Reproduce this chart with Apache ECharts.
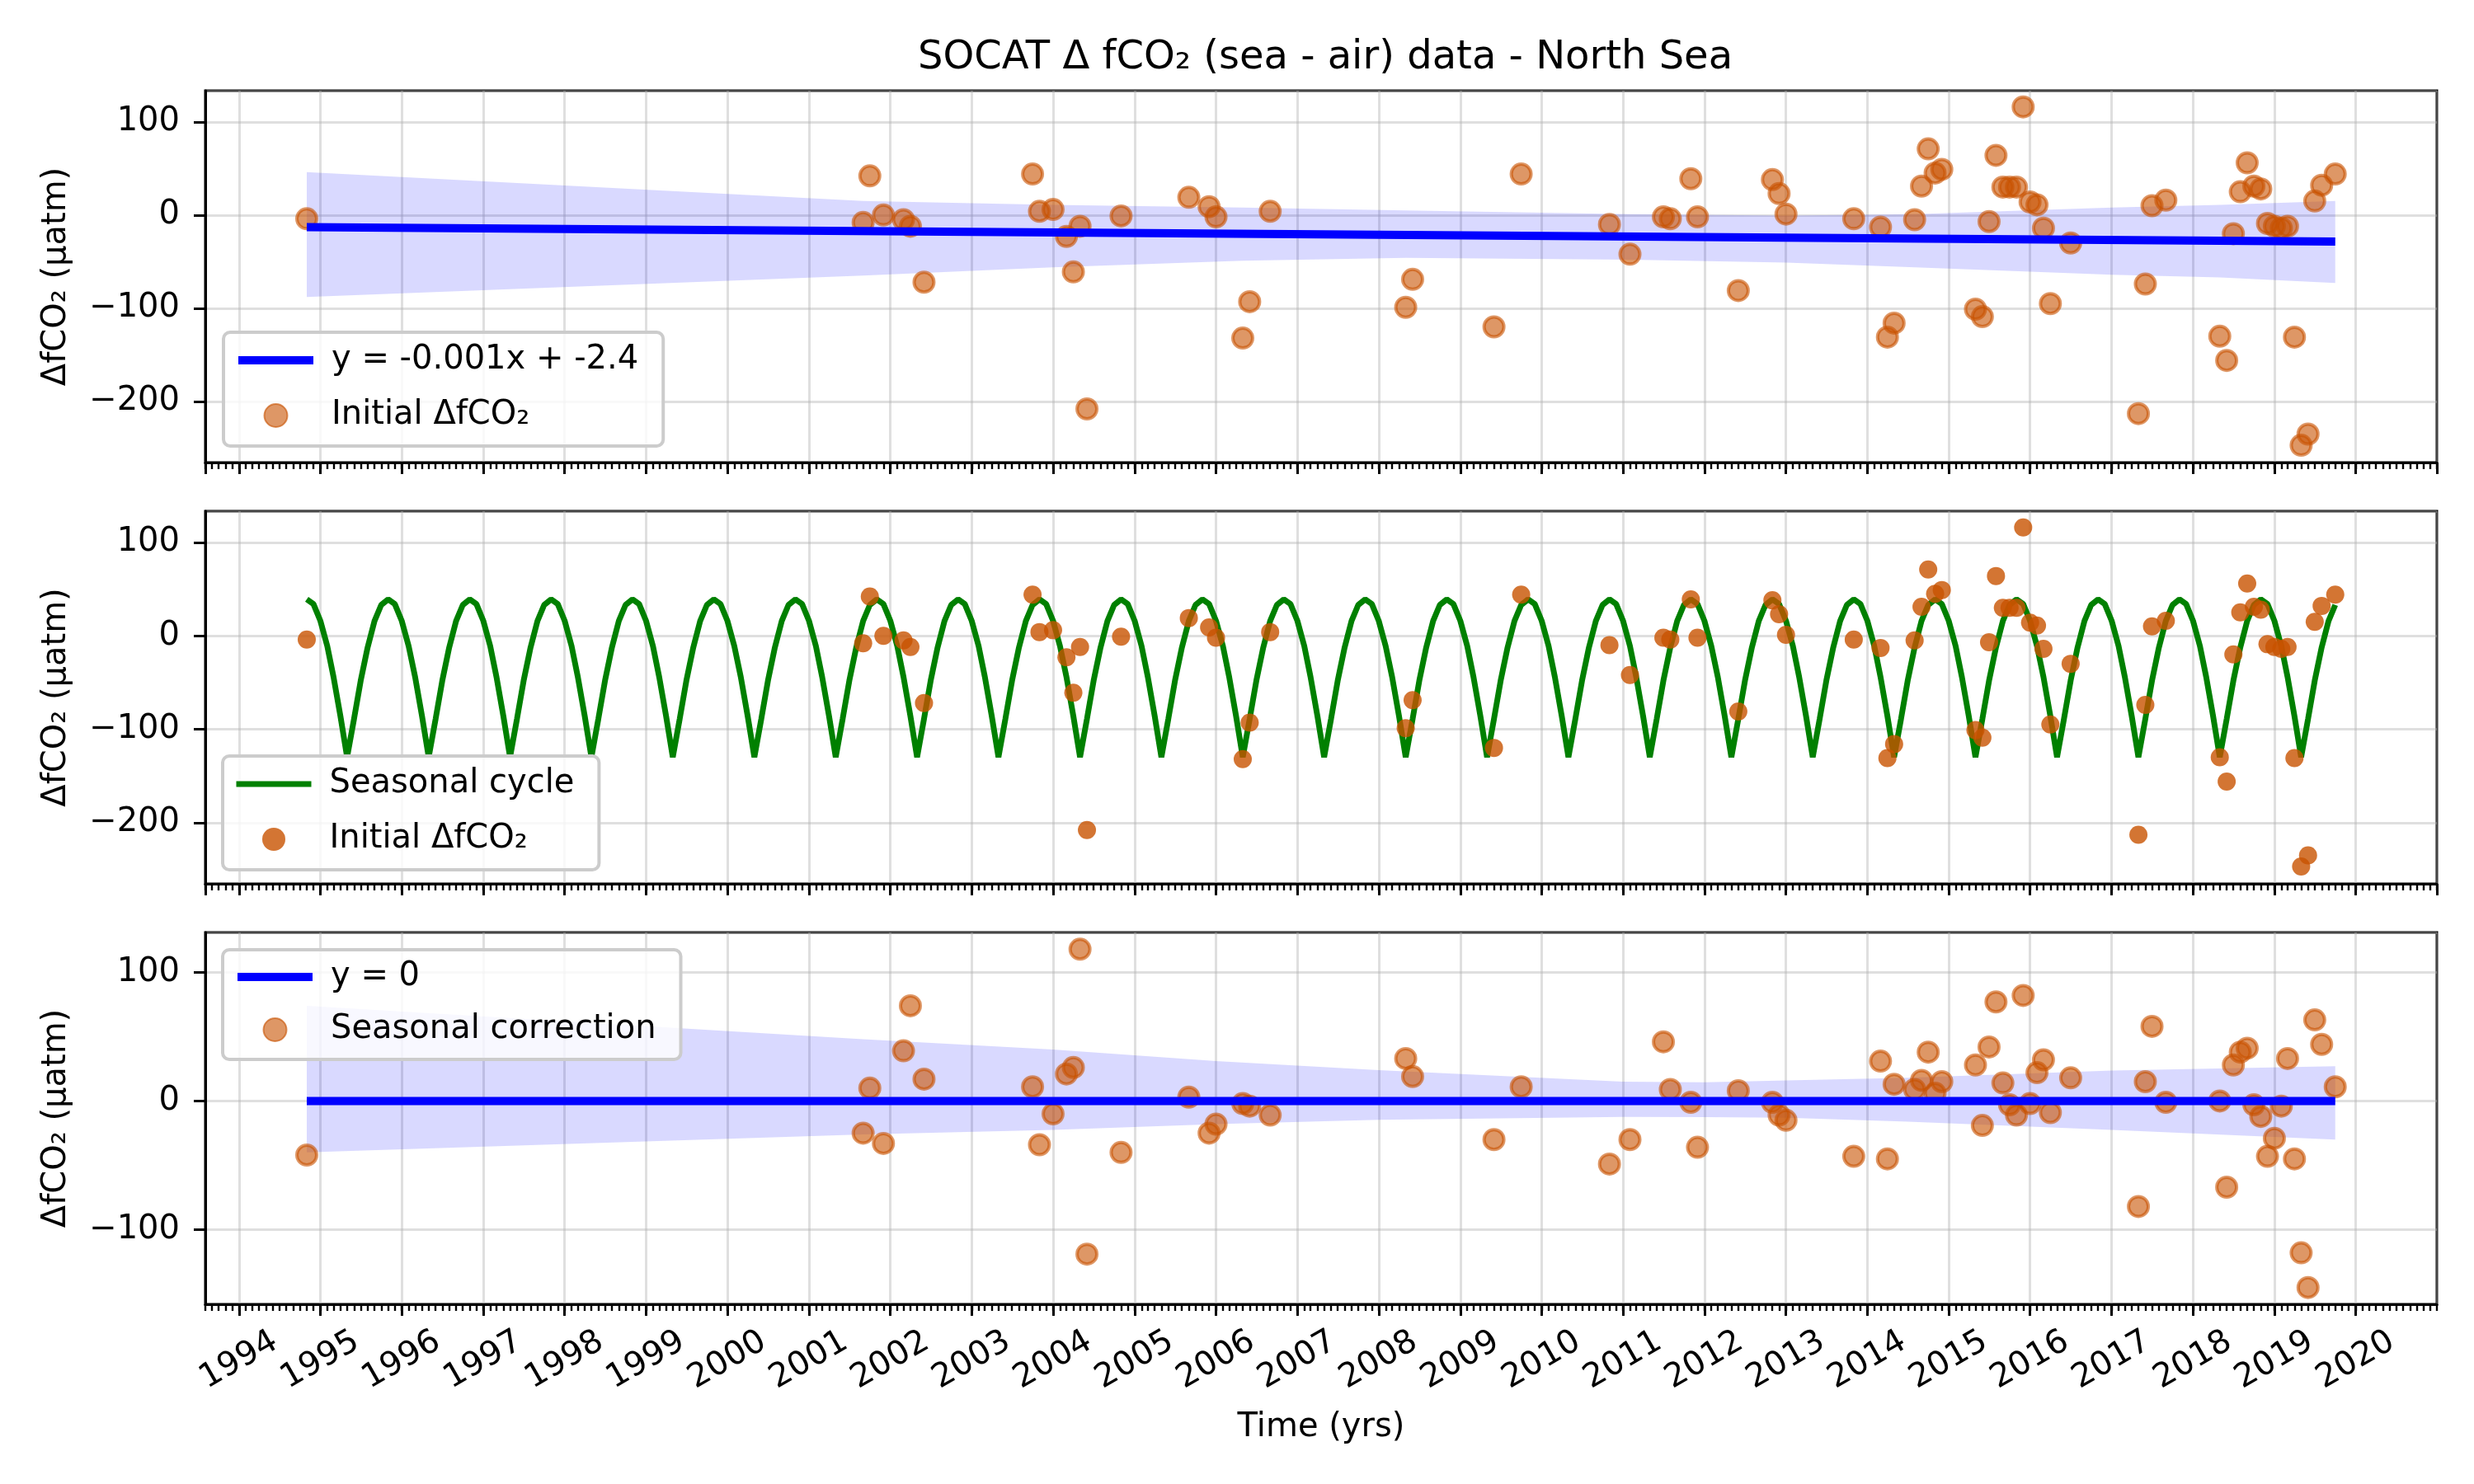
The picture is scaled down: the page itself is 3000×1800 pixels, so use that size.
<!DOCTYPE html>
<html>
<head>
<meta charset="utf-8">
<script src="https://cdn.jsdelivr.net/npm/echarts@6/dist/echarts.min.js"></script>
<style>
  html, body { margin: 0; padding: 0; background: #fff; }
  #chart { width: 3000px; height: 1800px; }
</style>
</head>
<body>
<div id="chart"></div>
<script>
const obsMonths = [
  '1994-11',
  '2001-09','2001-10','2001-12',
  '2002-03','2002-04','2002-06',
  '2003-10','2003-11',
  '2004-01','2004-03','2004-04','2004-05','2004-06','2004-11',
  '2005-09','2005-12',
  '2006-01','2006-05','2006-06','2006-09',
  '2008-05','2008-06',
  '2009-06','2009-10',
  '2010-11',
  '2011-02','2011-07','2011-08','2011-11','2011-12',
  '2012-06','2012-11','2012-12',
  '2013-01','2013-11',
  '2014-03','2014-04','2014-05','2014-08','2014-09','2014-10','2014-11','2014-12',
  '2015-05','2015-06','2015-07','2015-08','2015-09','2015-10','2015-11','2015-12',
  '2016-01','2016-02','2016-03','2016-04','2016-07',
  '2017-05','2017-06','2017-07','2017-09',
  '2018-05','2018-06','2018-07','2018-08','2018-09','2018-10','2018-11','2018-12',
  '2019-01','2019-02','2019-03','2019-04','2019-05','2019-06','2019-07','2019-08','2019-10'
];
// initial dfCO2 (top + middle panels)
const initialValues = [
  -4,
  -8, 42, 0,
  -5, -12, -72,
  44, 4,
  6, -23, -61, -12, -208, -1,
  19, 9,
  -2, -132, -93, 4,
  -99, -69,
  -120, 44,
  -10,
  -42, -2, -4, 39, -2,
  -81, 38, 23,
  1, -4,
  -13, -131, -116, -5, 31, 71, 45, 49,
  -101, -109, -7, 64, 30, 30, 30, 116,
  14, 11, -14, -95, -30,
  -213, -74, 10, 16,
  -130, -156, -20, 25, 56, 31, 28, -9,
  -12, -14, -12, -131, -247, -235, 15, 32, 44
];
// seasonally corrected dfCO2 (bottom panel)
const correctedValues = [
  -42,
  -25, 10, -33,
  39, 74, 17,
  11, -34,
  -10, 21, 26, 118, -119, -40,
  3, -25,
  -18, -2, -4, -11,
  33, 19,
  -30, 11,
  -49,
  -30, 46, 9, -1, -36,
  8, -1, -11,
  -15, -43,
  31, -45, 13, 9, 16, 38, 6, 15,
  28, -19, 42, 77, 14, -3, -11, 82,
  -2, 22, 32, -9, 18,
  -82, 15, 58, -1,
  0, -67, 28, 38, 41, -3, -12, -43,
  -29, -4, 33, -45, -118, -145, 63, 44, 11
];

// seasonal cycle value for each calendar month Jan..Dec
const seasonalByMonth = [16, -11, -44, -86, -130, -89, -48, -12.5, 16, 33, 39, 34];
const seasonalFirst = [1994, 11];
const seasonalLast = [2019, 10];

// regression lines
const trendMonths = ['1994-11', '2019-10'];
const trendValues = [-13, -28.5];
const zeroValues = [0, 0];

// confidence bands
const band1Months = ['1994-11','2001-09','2004-01','2006-05','2008-05','2011-02','2013-01','2014-08','2017-01','2018-05','2019-10'];
const band1Low  = [-88, -65, -56, -49, -46, -48, -51, -56, -64, -67, -73];
const band1High = [46, 15, 11, 8, 5, 1, -0.5, 1, 8, 11, 15];
const band3Months = ['1994-11','2001-09','2004-01','2006-01','2008-01','2011-01','2012-01','2013-01','2014-07','2017-01','2019-10'];
const band3Low  = [-40, -26, -22.5, -18, -14.6, -12.4, -12.5, -13, -16, -22.5, -30];
const band3High = [74, 48, 40, 31, 24, 15, 14.6, 16, 18, 23.6, 27];

const legendText = {
  trend1: 'y = -0.001x + -2.4',
  init1: 'Initial ΔfCO₂',
  seasonal: 'Seasonal cycle',
  init2: 'Initial ΔfCO₂',
  zero: 'y = 0',
  corr: 'Seasonal correction'
};

const FONT = 'DejaVu Sans';
const ORANGE = '#c85200';
const ORANGE_A = 'rgba(200,82,0,0.75)';
const BAND = 'rgba(0,0,255,0.15)';
const GRIDLINE = 'rgba(176,176,176,0.4)';
const DAY = 86400000;

const seasonalData = [];
for (let y = seasonalFirst[0], m = seasonalFirst[1];
     y < seasonalLast[0] || (y === seasonalLast[0] && m <= seasonalLast[1]); ) {
  seasonalData.push([y + '-' + String(m).padStart(2, '0'), seasonalByMonth[m - 1]]);
  m++;
  if (m > 12) { m = 1; y++; }
}

const pairs = (xs, ys) => xs.map((x, i) => [x, ys[i]]);

const panels = [
  { top: 110, height: 451, min: -265.5, max: 133.4, split: 4 },
  { top: 620, height: 452, min: -265.5, max: 133.4, split: 4 },
  { top: 1131, height: 451, min: -158, max: 131, split: 3 }
];

const grid = panels.map(p => ({
  left: 249, right: 45, top: p.top, height: p.height,
  show: true, borderColor: '#000', borderWidth: 3, backgroundColor: 'transparent'
}));

const xMain = panels.map((p, i) => ({
  type: 'time', gridIndex: i,
  min: '1993-08-03', max: '2020-12-30',
  minInterval: 365 * DAY, maxInterval: 366 * DAY,
  axisLine: { show: true, onZero: false, lineStyle: { color: '#000', width: 3 } },
  axisTick: { show: true, length: 14, lineStyle: { color: '#000', width: 3 } },
  axisLabel: {
    show: i === 2, rotate: 30, align: 'center', verticalAlign: 'middle', margin: 68,
    fontFamily: FONT, fontSize: 40, color: '#000',
    showMinLabel: false, showMaxLabel: false,
    formatter: v => String(new Date(v).getFullYear())
  },
  splitLine: { show: true, lineStyle: { color: GRIDLINE, width: 3 } },
  name: i === 2 ? 'Time (yrs)' : '',
  nameLocation: 'middle', nameGap: 130,
  nameTextStyle: { fontFamily: FONT, fontSize: 40, color: '#000' }
}));
// monthly minor ticks
const xMinor = panels.map((p, i) => ({
  type: 'time', gridIndex: i, position: 'bottom',
  min: '1993-08-03', max: '2020-12-30',
  minInterval: 28 * DAY, maxInterval: 31 * DAY,
  axisLine: { show: false, onZero: false },
  axisTick: { show: true, length: 8, lineStyle: { color: '#000', width: 2.4 } },
  axisLabel: { show: false },
  splitLine: { show: false }
}));

const yAxis = panels.map((p, i) => ({
  type: 'value', gridIndex: i, min: p.min, max: p.max, splitNumber: p.split,
  axisLine: { show: true, lineStyle: { color: '#000', width: 3 } },
  axisTick: { show: true, length: 14, lineStyle: { color: '#000', width: 3 } },
  axisLabel: {
    margin: 31, fontFamily: FONT, fontSize: 40, color: '#000',
    showMinLabel: false, showMaxLabel: false,
    formatter: v => String(v).replace('-', '\u2212')
  },
  splitLine: { show: true, lineStyle: { color: GRIDLINE, width: 3 } },
  name: 'ΔfCO₂ (μatm)', nameLocation: 'middle', nameGap: 160,
  nameTextStyle: { fontFamily: FONT, fontSize: 40, color: '#000' }
}));

function band(idx, months, low, high, key) {
  return [
    {
      name: key + 'lo', type: 'line', xAxisIndex: idx, yAxisIndex: idx,
      stack: key, stackStrategy: 'all',
      data: pairs(months, low), symbol: 'none', silent: true, z: 1,
      lineStyle: { opacity: 0 }
    },
    {
      name: key + 'hi', type: 'line', xAxisIndex: idx, yAxisIndex: idx,
      stack: key, stackStrategy: 'all',
      data: months.map((m, i) => [m, high[i] - low[i]]), symbol: 'none', silent: true, z: 1,
      lineStyle: { opacity: 0 }, areaStyle: { color: BAND, opacity: 1 }
    }
  ];
}

const series = [
  ...band(0, band1Months, band1Low, band1High, 'band1'),
  {
    name: 'init1', type: 'scatter', xAxisIndex: 0, yAxisIndex: 0, z: 3,
    data: pairs(obsMonths, initialValues), symbolSize: 24,
    itemStyle: { color: ORANGE_A, borderColor: ORANGE_A, borderWidth: 4 }
  },
  {
    name: 'trend1', type: 'line', xAxisIndex: 0, yAxisIndex: 0, z: 4,
    data: pairs(trendMonths, trendValues), symbol: 'none',
    color: '#0000ff', lineStyle: { color: '#0000ff', width: 10 }
  },
  {
    name: 'seasonal', type: 'line', xAxisIndex: 1, yAxisIndex: 1, z: 2,
    data: seasonalData, symbol: 'none',
    color: '#008000', lineStyle: { color: '#008000', width: 7 }
  },
  {
    name: 'init2', type: 'scatter', xAxisIndex: 1, yAxisIndex: 1, z: 3,
    data: pairs(obsMonths, initialValues), symbolSize: 22,
    itemStyle: { color: ORANGE }
  },
  ...band(2, band3Months, band3Low, band3High, 'band3'),
  {
    name: 'corr', type: 'scatter', xAxisIndex: 2, yAxisIndex: 2, z: 3,
    data: pairs(obsMonths, correctedValues), symbolSize: 24,
    itemStyle: { color: ORANGE_A, borderColor: ORANGE_A, borderWidth: 4 }
  },
  {
    name: 'zero', type: 'line', xAxisIndex: 2, yAxisIndex: 2, z: 4,
    data: pairs(trendMonths, zeroValues), symbol: 'none',
    color: '#0000ff', lineStyle: { color: '#0000ff', width: 10 }
  }
];

// line entries: hide the marker drawn in the middle of the legend line
const lineEntry = (name, color, width) => ({
  name: name, itemStyle: { opacity: 0 }, lineStyle: { color: color, width: width, opacity: 1 }
});

const legendBase = {
  orient: 'vertical', itemWidth: 91, itemHeight: 28, z: 10,
  selectedMode: false,
  backgroundColor: 'rgba(255,255,255,0.8)', borderColor: '#cccccc', borderWidth: 4, borderRadius: 8,
  formatter: n => legendText[n],
  textStyle: { fontFamily: FONT, fontSize: 40, color: '#000', lineHeight: 40, padding: [0, 0, 0, 17] }
};

const option = {
  animation: false,
  backgroundColor: '#fff',
  title: {
    text: 'SOCAT Δ fCO₂ (sea - air) data - North Sea',
    left: 1602, top: 42, textAlign: 'center',
    textStyle: { fontFamily: FONT, fontSize: 48, fontWeight: 'normal', color: '#000' }
  },
  legend: [
    Object.assign({}, legendBase, {
      data: [lineEntry('trend1', '#0000ff', 10), 'init1'],
      left: 271, top: 403, itemGap: 27, padding: [14, 30, 17, 13]
    }),
    Object.assign({}, legendBase, {
      data: [lineEntry('seasonal', '#008000', 7), 'init2'],
      left: 270, top: 917, itemGap: 27, padding: [14, 30, 17, 13]
    }),
    Object.assign({}, legendBase, {
      data: [lineEntry('zero', '#0000ff', 10), 'corr'],
      left: 270, top: 1152, itemGap: 24, padding: [13, 30, 16, 13]
    })
  ],
  grid: grid,
  xAxis: xMain.concat(xMinor),
  yAxis: yAxis,
  series: series
};

const chart = echarts.init(document.getElementById('chart'), null, { renderer: 'canvas' });
chart.setOption(option);
</script>
</body>
</html>
